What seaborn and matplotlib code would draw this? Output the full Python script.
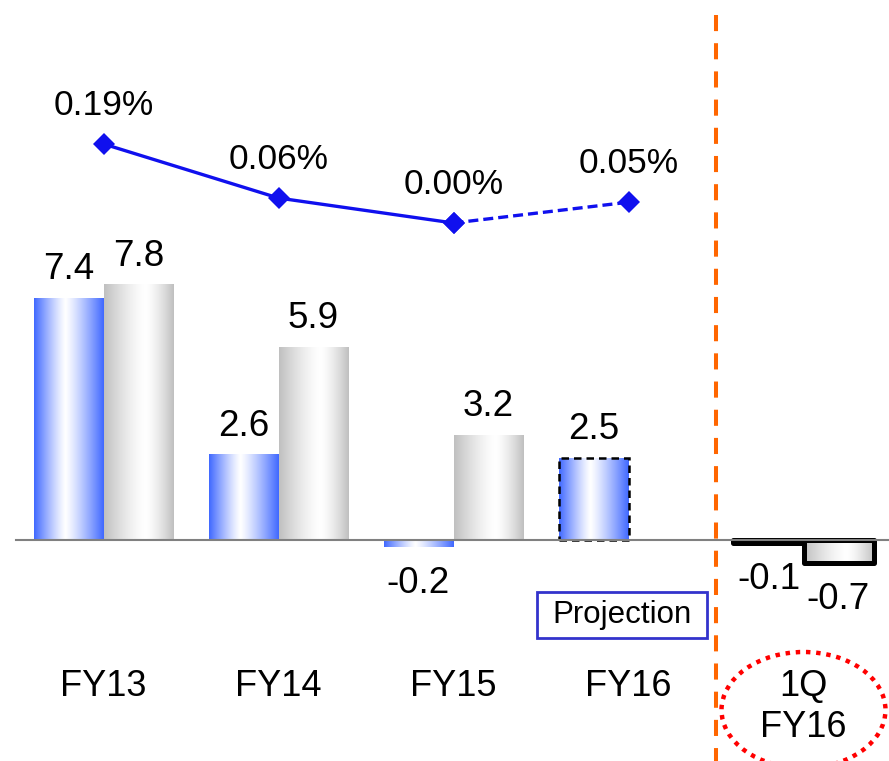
import numpy as np
import pandas as pd
import matplotlib
matplotlib.use("Agg")
import matplotlib.pyplot as plt
from matplotlib.patches import Ellipse, Rectangle
import seaborn as sns

# ---- data ----------------------------------------------------------------
periods = ["FY13", "FY14", "FY15", "FY16", "1Q FY16"]
period_lines = [["FY13"], ["FY14"], ["FY15"], ["FY16"], ["1Q", "FY16"]]
series_a = [7.4, 2.6, -0.2, 2.5, -0.1]
series_b = [7.8, 5.9, 3.2, np.nan, -0.7]
ratio_periods = ["FY13", "FY14", "FY15", "FY16"]
ratio = [0.19, 0.06, 0.00, 0.05]
ratio_labels = ["0.19%", "0.06%", "0.00%", "0.05%"]
projected_period = "FY16"
quarter_period = "1Q FY16"

# ---- style ---------------------------------------------------------------
sns.set_theme(style="white")
plt.rcParams["font.family"] = ["Liberation Sans", "DejaVu Sans"]

BLUE = (0.25, 0.41, 1.0)
GRAY = (0.75, 0.75, 0.75)
LINE_BLUE = "#1010EE"

bars = pd.DataFrame({
    "period": periods * 2,
    "series": ["A"] * len(periods) + ["B"] * len(periods),
    "value": series_a + series_b,
})

fig = plt.figure(figsize=(8.89, 7.61), dpi=100)
ax = fig.add_axes([16 / 889, 0.0, 875 / 889, 1.0])

sns.barplot(data=bars, x="period", y="value", hue="series",
            order=periods, hue_order=["A", "B"],
            palette={"A": BLUE, "B": GRAY}, width=0.8,
            linewidth=0, errorbar=None, legend=False, ax=ax)


def gradient_strip(base, peak, n=256, power=1.4):
    u = np.linspace(0, 1, n)
    t = np.where(u < peak, (peak - u) / peak, (u - peak) / (1 - peak))
    k = t ** power
    rgb = np.asarray(base)[None, :] * k[:, None] + (1 - k)[:, None]
    return rgb[None, :, :]


strips = {"A": gradient_strip(BLUE, 0.45, power=1.2),
          "B": gradient_strip(GRAY, 0.6)}
proj_idx = periods.index(projected_period)
quarter_idx = periods.index(quarter_period)

for name, container in zip(["A", "B"], ax.containers):
    for patch in container.patches:
        h = patch.get_height()
        if not np.isfinite(h):
            continue
        x0, w, y0 = patch.get_x(), patch.get_width(), patch.get_y()
        lo, hi = min(y0, y0 + h), max(y0, y0 + h)
        ax.imshow(strips[name], extent=(x0, x0 + w, lo, hi), aspect="auto",
                  interpolation="bilinear", zorder=1.5)
        patch.set_facecolor("none")
        patch.set_zorder(2)
        idx = int(round(x0 + w / 2))
        if idx == proj_idx:
            patch.set_edgecolor("black")
            patch.set_linewidth(1.8)
            patch.set_linestyle((0, (3, 2)))
        elif idx == quarter_idx:
            patch.set_edgecolor("black")
            patch.set_linewidth(3.6)
            patch.set_joinstyle("round")
        # value label
        if h >= 0:
            ax.text(x0 + w / 2, hi + 0.58, f"{h:.1f}", ha="center",
                    va="baseline", fontsize=26.5, color="black", zorder=5)
        else:
            ax.text(x0 + w / 2, lo - 1.41, f"{h:.1f}", ha="center",
                    va="baseline", fontsize=26.5, color="black", zorder=5)

# scales: zero line sits at a fixed height, 32.7 px per unit
ax.set_xlim(-0.5, 4.5)
ax.set_ylim(-(761 - 540) / 32.7, 540 / 32.7)
for s in ["top", "right", "left"]:
    ax.spines[s].set_visible(False)
ax.spines["bottom"].set_position(("data", 0))
ax.spines["bottom"].set_color("#808080")
ax.spines["bottom"].set_linewidth(1.5)
ax.spines["bottom"].set_zorder(3)
ax.set_xticks(np.arange(len(periods)))
ax.set_xticklabels([])
ax.tick_params(axis="x", which="major", length=0)
ax.set_xticks(np.arange(len(periods)) - 0.5, minor=True)
ax.tick_params(axis="x", which="minor", direction="in", length=8.5,
               width=1, color="#606060")
ax.set_yticks([])
ax.set_xlabel("")
ax.set_ylabel("")

# category labels
for i, lines in enumerate(period_lines):
    for j, line in enumerate(lines):
        ax.text(i, -4.771 - 1.253 * j, line, ha="center", va="baseline",
                fontsize=26, color="black")

# separator between annual and quarterly figures
ax.plot([3.5, 3.5], [540 / 32.7 - 15 / 32.7, -(761 - 540) / 32.7],
        color="#FF6600", lw=2.9, linestyle=(0, (4, 3)), zorder=4,
        solid_capstyle="butt", dash_capstyle="butt")

# projection tag
ax.add_patch(Rectangle((2.477, -3.0), 0.972, 1.41, fill=False,
                       edgecolor="#3333CC", lw=2, zorder=4))
ax.text(2.963, -2.30, "Projection", ha="center", va="center",
        fontsize=22.5, color="black", zorder=5)

# highlight of the quarterly period
ax.add_patch(Ellipse((quarter_idx, -5.2), 0.937, 3.55, fill=False,
                     edgecolor="#FF0000", lw=3.2, linestyle=(0, (1, 1.3)),
                     zorder=4, clip_on=False))

# ---- ratio line on secondary axis ----------------------------------------
ax2 = ax.twinx()
rdf = pd.DataFrame({"pos": [periods.index(p) for p in ratio_periods],
                    "ratio": ratio, "label": ratio_labels})
actual = rdf.iloc[:3]
outlook = rdf.iloc[2:]
sns.lineplot(data=actual, x="pos", y="ratio", ax=ax2, color=LINE_BLUE,
             lw=2.4, marker="D", markersize=11, markeredgewidth=0,
             sort=False, estimator=None)
sns.lineplot(data=outlook, x="pos", y="ratio", ax=ax2, color=LINE_BLUE,
             lw=2.4, linestyle=(0, (3, 1.5)), marker="D", markersize=11,
             markeredgewidth=0, sort=False, estimator=None)
for _, row in rdf.iterrows():
    ax2.text(row["pos"], row["ratio"] + 0.0697, row["label"], ha="center",
             va="baseline", fontsize=25.5, color="black")

ax2.set_ylim(-(761 - 223) / 416, 223 / 416)
ax2.set_xlim(-0.5, 4.5)
ax2.set_yticks([])
ax2.set_ylabel("")
ax2.set_xlabel("")
for s in ax2.spines.values():
    s.set_visible(False)

fig.savefig("out.png", dpi=100)
